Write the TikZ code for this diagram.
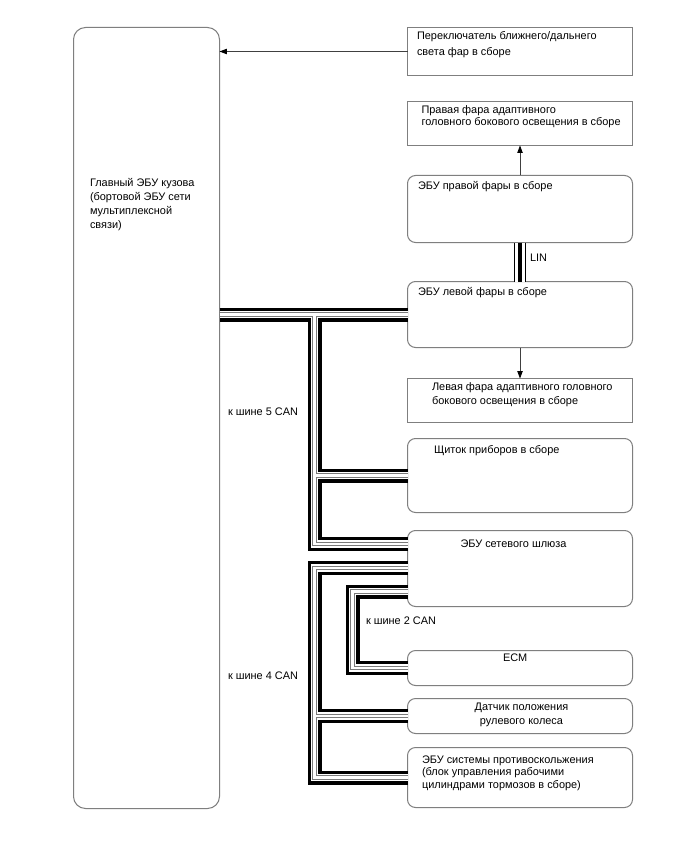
\documentclass[tikz,border=0pt]{standalone}
\usepackage{fontspec}
\setmainfont{Liberation Sans}
\usetikzlibrary{arrows.meta}
\definecolor{boxgray}{HTML}{7F7F7F}
\definecolor{wiregray}{HTML}{7A7A7A}
\definecolor{arrowgray}{HTML}{404040}
\newcommand{\mkbox}[6]{\node[#1, minimum width={(#4-#2)*0.75pt}, minimum height={(#5-#3)*0.75pt}] (#6) at ({(#2+#4)/2},{(#3+#5)/2}) {};}
\begin{document}
\begin{tikzpicture}[x=0.75pt,y=-0.75pt,
  sqbox/.style={draw=boxgray, line width=0.75pt, inner sep=0pt, outer sep=0pt, rectangle},
  rdbox/.style={sqbox, rounded corners=6pt},
  mainbox/.style={sqbox, rounded corners=9pt},
  lbl/.style={anchor=base west, inner sep=0pt, outer sep=0pt, align=left, font=\fontsize{8.2pt}{#1}\selectfont},
  lbl/.default=10pt,
  arr/.style={draw=arrowgray, line width=0.6pt, -{Triangle[length=5.5pt,width=4pt,color=black]}},
]
\useasboundingbox (0,0) rectangle (688,852);
\fill[white] (0,0) rectangle (688,852);
% boxes
\mkbox{mainbox}{73.5}{27.5}{219.5}{808.5}{main}
\mkbox{sqbox}{407.5}{27.5}{632.5}{75.5}{sw}
\mkbox{sqbox}{407.5}{101.5}{632.5}{145.5}{hR}
\mkbox{rdbox}{407.5}{175.5}{632.5}{242.5}{ecuR}
\mkbox{rdbox}{407.5}{281.5}{632.5}{347.5}{ecuL}
\mkbox{sqbox}{407.5}{378.5}{632.5}{422.5}{hL}
\mkbox{rdbox}{407.5}{438.5}{632.5}{512.5}{cl}
\mkbox{rdbox}{407.5}{530.5}{632.5}{606.5}{gw}
\mkbox{rdbox}{407.5}{650.5}{632.5}{685.5}{ecm}
\mkbox{rdbox}{407.5}{698.5}{632.5}{733.5}{sas}
\mkbox{rdbox}{407.5}{747.5}{632.5}{807.5}{esc}
% texts (multi-line nodes: base = last line)
\node[lbl=10.5pt] (main-t) at (90,228.5) {Главный ЭБУ кузова\\(бортовой ЭБУ сети\\мультиплексной\\связи)};
\node[lbl=12pt] (sw-t) at (417,55.2) {Переключатель ближнего/дальнего\\света фар в сборе};
\node[lbl=9.2pt] (hR-t) at (421.5,125.8) {Правая фара адаптивного\\головного бокового освещения в сборе};
\node[lbl] (ecuR-t) at (418,189.5) {ЭБУ правой фары в сборе};
\node[lbl] (ecuL-t) at (418,295.8) {ЭБУ левой фары в сборе};
\node[lbl=10.5pt] (hL-t) at (432,404.2) {Левая фара адаптивного головного\\бокового освещения в сборе};
\node[lbl] (cl-t) at (434,453.5) {Щиток приборов в сборе};
\node[lbl] (gw-t) at (460.5,547.5) {ЭБУ сетевого шлюза};
\node[lbl] (ecm-t) at (503,661.8) {ECM};
\node[lbl=10.5pt, anchor=base, align=center] (sas-t) at (521.5,724.2) {Датчик положения\\рулевого колеса};
\node[lbl=9.4pt] (esc-t) at (422,788.5) {ЭБУ системы противоскольжения\\(блок управления рабочими\\цилиндрами тормозов в сборе)};
\node[lbl] (lin-t) at (530,261.5) {LIN};
\node[lbl] (can5-t) at (228,415.5) {к шине 5 CAN};
\node[lbl] (can4-t) at (228,679.5) {к шине 4 CAN};
\node[lbl] (can2-t) at (366,624) {к шине 2 CAN};
% arrows
\draw[arr] (sw.west) -- (sw.west -| main.east);
\draw[arr] (ecuR.north) -- (hR.south);
\draw[arr] (ecuL.south) -- (hL.north);
% LIN bus
\foreach \w/\c in {9pt/black,7.2pt/white,3.6pt/black}{
  \draw[line width=\w,color=\c] (ecuR.south) -- (ecuL.north);
}
% CAN buses
\coordinate (busx) at (314.5,0);
\coordinate (busy) at (352.5,0);
\coordinate (gw5) at (407.5,544);
\coordinate (gw4) at (407.5,568);
\coordinate (gw2) at (407.5,591.5);
\foreach \w/\c in {10.5pt/black,5.55pt/white,3.3pt/wiregray,1.8pt/white}{
  \draw[line width=\w,color=\c,line join=miter]
    (ecuL.west -| main.east) -- (ecuL.west)
    (busx |- ecuL.west) -- (busx |- gw5) -- (gw5)
    (busx |- cl.west) -- (cl.west)
    (gw4) -- (busx |- gw4) -- (busx |- esc.west) -- (esc.west)
    (busx |- sas.west) -- (sas.west)
    (gw2) -- (busy |- gw2) -- (busy |- ecm.west) -- (ecm.west);
}
\end{tikzpicture}
\end{document}
